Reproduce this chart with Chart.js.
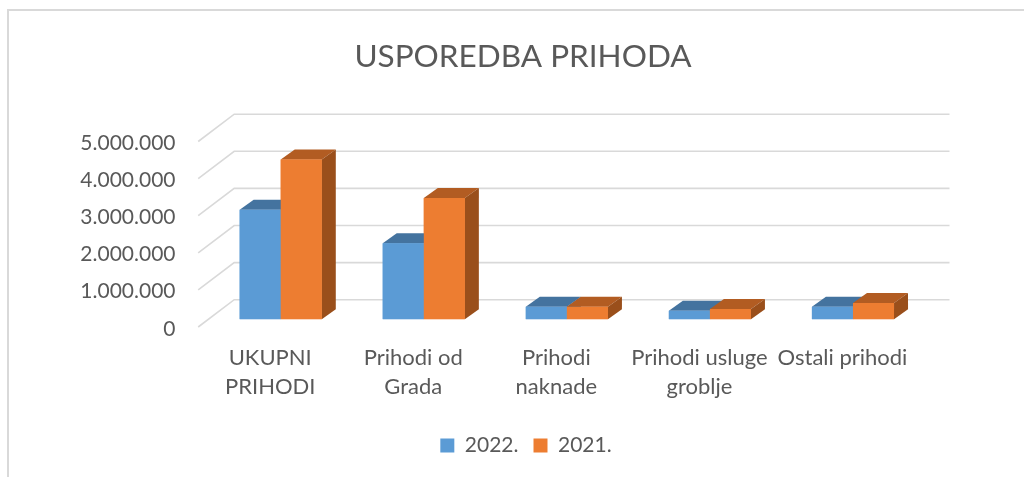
<!DOCTYPE html>
<html>
<head>
<meta charset="utf-8">
<style>
html,body{margin:0;padding:0;background:#fff;overflow:hidden;width:1024px;height:477px}
#w{position:absolute;left:0;top:0;width:1046px;height:477px}
</style>
<script src="https://cdn.jsdelivr.net/npm/chart.js@4"></script>
</head>
<body>
<div id="w"><canvas id="c" width="1046" height="477"></canvas></div>
<script>
const categories = [["UKUPNI","PRIHODI"],["Prihodi od","Grada"],["Prihodi","naknade"],["Prihodi usluge","groblje"],"Ostali prihodi"];
const series2022 = [2950000,2050000,340000,230000,340000];
const series2021 = [4310000,3270000,340000,280000,440000];
const yMax = 5000000, yStep = 1000000;
const textColor = "#595959", gridColor = "#d9d9d9";

const DEPTH = {gridX:36, gridY:27.3, floorX:11, floorY:7.7, barX:14, barY:10};

function poly(ctx, pts, fill){
  ctx.beginPath();
  pts.forEach((p,i)=> i?ctx.lineTo(p[0],p[1]):ctx.moveTo(p[0],p[1]));
  ctx.closePath();
  ctx.fillStyle = fill; ctx.fill();
}
const threeD = {
  id:"threeD",
  afterLayout(chart){
    chart.legend.left += 3;
    chart.legend.right += 3;
  },
  beforeDraw(chart){
    const ctx = chart.ctx;
    ctx.save();
    ctx.strokeStyle = gridColor; ctx.lineWidth = 2;
    ctx.beginPath();
    ctx.moveTo(8,477); ctx.lineTo(8,10); ctx.lineTo(1046,10);
    ctx.stroke();
    ctx.restore();
  },
  beforeDatasetsDraw(chart){
    const ctx = chart.ctx, y = chart.scales.y, a = chart.chartArea;
    ctx.save();
    ctx.strokeStyle = gridColor; ctx.lineWidth = 1.6;
    const fx = a.left - DEPTH.floorX, rx = a.right - DEPTH.floorX + DEPTH.gridX;
    y.ticks.forEach(t=>{
      const py = y.getPixelForValue(t.value) + DEPTH.floorY;
      ctx.beginPath();
      ctx.moveTo(fx, py);
      ctx.lineTo(fx + DEPTH.gridX, py - DEPTH.gridY);
      ctx.lineTo(rx, py - DEPTH.gridY);
      ctx.stroke();
    });
    ctx.restore();
  },
  afterDatasetsDraw(chart){
    const ctx = chart.ctx;
    const looks = [{top:"#44739f",side:"#3d6a94"},{top:"#b25c22",side:"#9a4f1b"}];
    const metas = [chart.getDatasetMeta(0), chart.getDatasetMeta(1)];
    ctx.save();
    categories.forEach((_,i)=>{
      metas.forEach((m,k)=>{
        const b = m.data[i], l = b.x - b.width/2, r = b.x + b.width/2, t = b.y, bt = b.base;
        const dx = DEPTH.barX, dy = DEPTH.barY;
        poly(ctx, [[l,t],[l+dx,t-dy],[r+dx,t-dy],[r,t]], looks[k].top);
        poly(ctx, [[r,t],[r+dx,t-dy],[r+dx,bt-dy],[r,bt]], looks[k].side);
      });
      metas.forEach(m=> m.data[i].draw(ctx));
    });
    ctx.restore();
  }
};

new Chart(document.getElementById("c"),{
  type:"bar",
  data:{labels:categories,datasets:[
    {label:"2022.",data:series2022,backgroundColor:"#5b9bd5",borderWidth:0,categoryPercentage:0.574,barPercentage:1},
    {label:"2021.",data:series2021,backgroundColor:"#ed7d31",borderWidth:0,categoryPercentage:0.574,barPercentage:1}
  ]},
  options:{
    responsive:false,animation:false,
    layout:{padding:{bottom:11}},
    plugins:{
      tooltip:{enabled:false},
      title:{display:true,text:"USPOREDBA PRIHODA",color:textColor,
        font:{family:"Lato",size:31.5,weight:"normal",lineHeight:1.2},
        padding:{top:38,bottom:58}},
      legend:{position:"bottom",onClick:null,
        labels:{boxWidth:14,boxHeight:14,color:textColor,padding:15,
          font:{family:"Lato",size:21}}}
    },
    scales:{
      x:{
        grid:{display:false,drawTicks:false},border:{display:false},
        ticks:{color:textColor,font:{family:"Lato",size:22,lineHeight:1.32},
          maxRotation:0,minRotation:0,autoSkip:false,padding:24,labelOffset:-10.5},
        afterFit(s){ s.height = 100.7; }
      },
      y:{
        min:0,max:yMax,
        grid:{display:false,drawTicks:false},border:{display:false},
        ticks:{stepSize:yStep,color:textColor,font:{family:"Lato",size:21},padding:33.7,labelOffset:9.5,
          callback:v=>String(v).replace(/\B(?=(\d{3})+(?!\d))/g,".")},
        afterFit(s){ s.width = 209.2; }
      },
      rightPad:{
        position:"right",display:true,
        grid:{display:false,drawTicks:false},border:{display:false},
        ticks:{display:false},
        afterFit(s){ s.width = 121.5; }
      }
    }
  },
  plugins:[threeD]
});
</script>
</body>
</html>
